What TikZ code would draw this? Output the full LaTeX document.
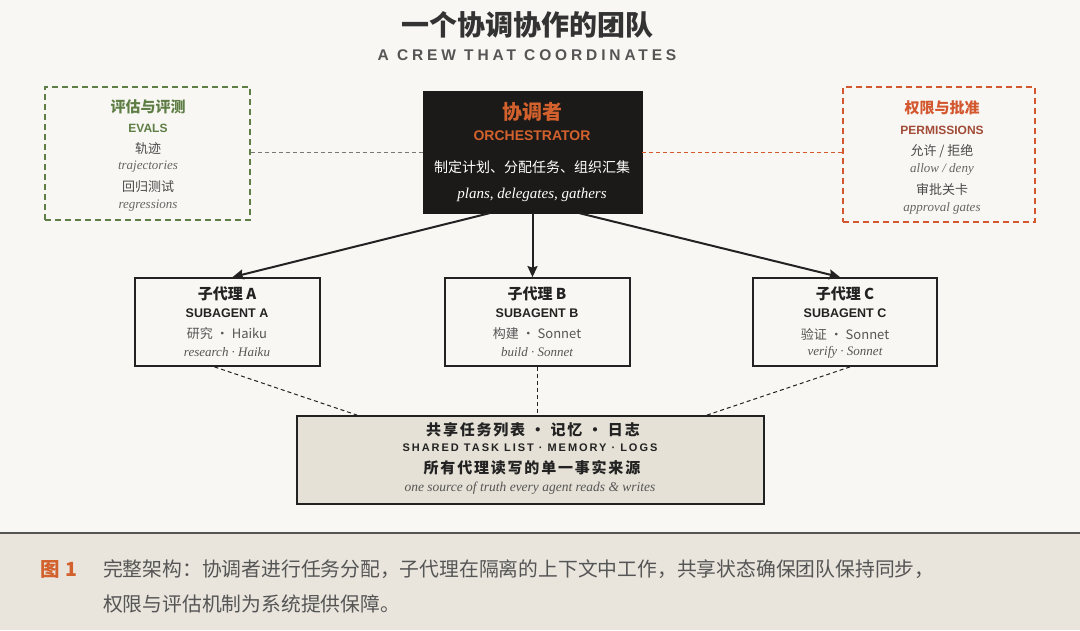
\documentclass[tikz,border=0pt]{standalone}
\usepackage{fontspec}
\usetikzlibrary{arrows.meta,calc}
\setmainfont{Liberation Serif}
\newfontfamily\cjkf{Noto Sans CJK SC}
\newfontfamily\cjkls[LetterSpace=12]{Noto Sans CJK SC}
\newfontfamily\lsans{Liberation Sans}
\newfontfamily\subtfont[LetterSpace=25]{Liberation Sans}
\newfontfamily\sharedfont[LetterSpace=18]{Liberation Sans}
\newfontfamily\serifit{Liberation Serif}
\definecolor{bgc}{HTML}{F8F7F3}
\definecolor{capbg}{HTML}{E9E5DD}
\definecolor{capline}{HTML}{555555}
\definecolor{titlec}{HTML}{333333}
\definecolor{subc}{HTML}{555555}
\definecolor{evgreen}{HTML}{5E7E45}
\definecolor{orng}{HTML}{D2612D}
\definecolor{permred}{HTML}{D4582F}
\definecolor{permbrown}{HTML}{A24B37}
\definecolor{darkc}{HTML}{222222}
\definecolor{midc}{HTML}{4A4A4A}
\definecolor{itc}{HTML}{666666}
\definecolor{orchbg}{HTML}{1C1A18}
\definecolor{sharedbg}{HTML}{E6E1D6}
\definecolor{linkgray}{HTML}{777777}
\tikzset{
  txt/.style={inner sep=0pt, outer sep=0pt, align=center},
  evalbox/.style={draw=evgreen, line width=1.8pt, dash pattern=on 6pt off 4pt, rectangle, inner sep=0pt},
  permbox/.style={draw=permred, line width=1.8pt, dash pattern=on 6pt off 4pt, rectangle, inner sep=0pt},
  orchbox/.style={fill=orchbg, draw=orchbg, rectangle, inner sep=0pt},
  subbox/.style={draw=darkc, line width=1.8pt, fill=bgc, rectangle, inner sep=0pt, minimum width=185pt, minimum height=88pt},
  sharedbox/.style={draw=darkc, line width=1.8pt, fill=sharedbg, rectangle, inner sep=0pt},
  arr/.style={draw=darkc, line width=2pt, -{Stealth[length=11pt,width=10pt,inset=1.5pt]}},
  link/.style={line width=1pt, dash pattern=on 4pt off 3pt},
  cjkbold/.style={font=\cjkf\bfseries\fontsize{#1}{#1}\selectfont},
  cjkreg/.style={font=\cjkf\fontsize{#1}{#1}\selectfont},
  sansbold/.style={font=\lsans\bfseries\fontsize{#1}{#1}\selectfont},
  itsty/.style={font=\serifit\itshape\fontsize{#1}{#1}\selectfont},
}
\begin{document}
\begin{tikzpicture}[x=1pt,y=-1pt]
\fill[bgc] (0,0) rectangle (1080,630);
\useasboundingbox (0,0) rectangle (1080,630);
\fill[capbg] (0,533) rectangle (1080,630);
\draw[line width=1.5pt, capline] (0,533) -- (1080,533);

% title
\node[txt, cjkbold=28, text=titlec] (title) at (527,25) {一个协调协作的团队};
\node[txt, font=\subtfont\bfseries\fontsize{15.5}{15.5}\selectfont, text=subc] (subtitle) at (527,55) {A CREW THAT COORDINATES};

% boxes
\node[evalbox, minimum width=205pt, minimum height=133pt] (evals) at (147.5,153.5) {};
\node[orchbox, minimum width=219pt, minimum height=122pt] (orch) at (532.5,152) {};
\node[permbox, minimum width=192pt, minimum height=135pt] (perm) at (939,154.5) {};
\node[subbox] (subA) at (227.5,322) {};
\node[subbox] (subB) at (537.5,322) {};
\node[subbox, minimum width=184pt] (subC) at (845,322) {};
\node[sharedbox, minimum width=467pt, minimum height=88pt] (shared) at (530.5,460) {};

% links
\draw[link, linkgray] (evals.east |- orch.west) -- (orch.west);
\draw[link, permred] (orch.east) -- (perm.west |- orch.east);

\draw[arr] ($(orch.south)+(-43,0)$) -- ($(subA.north)+(5,0)$);
\draw[arr] (orch.south) -- (orch.south |- subB.north);
\draw[arr] ($(orch.south)+(47,0)$) -- ($(subC.north)+(-5,0)$);

\draw[link, darkc] ($(subA.south)+(-13,0)$) -- ($(shared.north west)+(61,0)$);
\draw[link, darkc] (subB.south) -- (subB.south |- shared.north);
\draw[link, darkc] ($(subC.south)+(5,0)$) -- ($(shared.north east)+(-58,0)$);

% evals text
\node[txt, cjkbold=15, text=evgreen] (ev1) at (148,107) {评估与评测};
\node[txt, sansbold=12, text=evgreen] (ev2) at (148,128) {EVALS};
\node[txt, cjkreg=13, text=midc] (ev3) at (148,149) {轨迹};
\node[txt, itsty=13, text=itc] (ev4) at (148,167) {trajectories};
\node[txt, cjkreg=13, text=midc] (ev5) at (148,187) {回归测试};
\node[txt, itsty=13, text=itc] (ev6) at (148,206) {regressions};

% orchestrator text
\node[txt, cjkbold=20, text=orng] (or1) at (532,112) {协调者};
\node[txt, sansbold=14, text=orng] (or2) at (532,136) {ORCHESTRATOR};
\node[txt, cjkreg=14, text=white] (or3) at (532,167) {制定计划、分配任务、组织汇集};
\node[txt, itsty=15, text=white] (or4) at (532,195) {plans, delegates, gathers};

% permissions text
\node[txt, cjkbold=15, text=permred] (pe1) at (942,108) {权限与批准};
\node[txt, sansbold=12, text=permbrown] (pe2) at (942,130) {PERMISSIONS};
\node[txt, cjkreg=13, text=midc] (pe3) at (942,151) {允许 / 拒绝};
\node[txt, itsty=13, text=itc] (pe4) at (942,169) {allow / deny};
\node[txt, cjkreg=13, text=midc] (pe5) at (942,190) {审批关卡};
\node[txt, itsty=13, text=itc] (pe6) at (942,208) {approval gates};

% subagents
\node[txt, cjkbold=15, text=darkc] (a1) at (227,294) {子代理 A};
\node[txt, sansbold=12.5, text=darkc] (a2) at (227,313) {SUBAGENT A};
\node[txt, cjkreg=13, text=subc] (a3) at (227,334) {研究 · Haiku};
\node[txt, itsty=13, text=subc] (a4) at (227,352) {research · Haiku};

\node[txt, cjkbold=15, text=darkc] (b1) at (537,294) {子代理 B};
\node[txt, sansbold=12.5, text=darkc] (b2) at (537,313) {SUBAGENT B};
\node[txt, cjkreg=13, text=subc] (b3) at (537,334) {构建 · Sonnet};
\node[txt, itsty=13, text=subc] (b4) at (537,352) {build · Sonnet};

\node[txt, cjkbold=15, text=darkc] (c1) at (845,294) {子代理 C};
\node[txt, sansbold=12.5, text=darkc] (c2) at (845,313) {SUBAGENT C};
\node[txt, cjkreg=13, text=subc] (c3) at (845,334) {验证 · Sonnet};
\node[txt, itsty=13, text=subc] (c4) at (845,352) {verify · Sonnet};

% shared
\node[txt, font=\cjkls\bfseries\fontsize{15}{15}\selectfont, text=darkc] (s1) at (533,430) {共享任务列表 · 记忆 · 日志};
\node[txt, font=\sharedfont\bfseries\fontsize{11}{11}\selectfont, text=darkc] (s2) at (530,448) {SHARED TASK LIST · MEMORY · LOGS};
\node[txt, font=\cjkls\bfseries\fontsize{15}{15}\selectfont, text=darkc] (s3) at (532,468) {所有代理读写的单一事实来源};
\node[txt, itsty=13.5, text=subc] (s4) at (530,488) {one source of truth every agent reads \& writes};

% caption
\node[txt, anchor=west, cjkbold=19.5, text=orng] (fig) at (40,569) {图\hspace{6pt}1};
\node[txt, anchor=west, cjkreg=19.8, text=subc] (cap1) at (103,569) {完整架构：协调者进行任务分配，子代理在隔离的上下文中工作，共享状态确保团队保持同步，};
\node[txt, anchor=west, cjkreg=19.8, text=subc] (cap2) at (103,604) {权限与评估机制为系统提供保障。};
\end{tikzpicture}
\end{document}
